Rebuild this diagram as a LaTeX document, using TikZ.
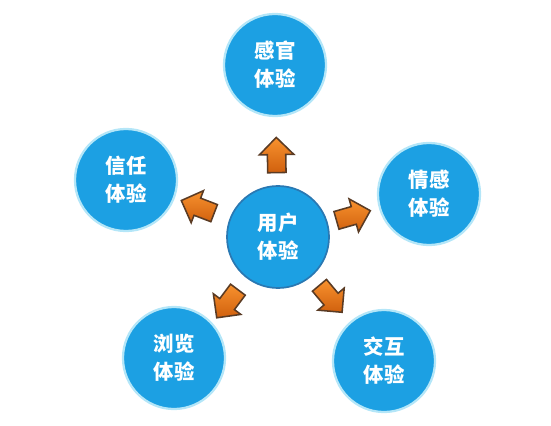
\documentclass[tikz,border=0pt]{standalone}
\usepackage{fontspec}
\newfontfamily\cjk{Noto Sans CJK SC}
\usetikzlibrary{calc,shapes.arrows}

\definecolor{bubbleblue}{HTML}{1CA0E3}
\definecolor{rimblue}{HTML}{B4E6F8}
\definecolor{hubedge}{HTML}{2A78B2}
\definecolor{arrowlight}{HTML}{F8922E}
\definecolor{arrowdark}{HTML}{D0600E}
\definecolor{arrowedge}{HTML}{5A3B24}

\tikzset{
  bubble/.style={circle, minimum size=2.55cm, inner sep=0pt, fill=bubbleblue,
    draw=rimblue, line width=1.6pt, text=white, align=center,
    font=\cjk\bfseries\fontsize{14.5}{20}\selectfont},
  hub/.style={bubble, draw=hubedge, line width=1.2pt},
  pointer/.style={single arrow, inner xsep=0pt, inner ysep=0.21cm,
    minimum height=0.88cm, single arrow head extend=0.2cm,
    draw=arrowedge, line width=1.1pt, top color=arrowlight, bottom color=arrowdark}
}

\begin{document}
\begin{tikzpicture}[x=0.025cm, y=-0.025cm]
		%%%%% START %%%%%
		\useasboundingbox (0, 0) rectangle (551, 426);
		
		\node[hub] (user) at (278, 237) {用户\\体验};
		
		\node[bubble] (sense) at (275, 65) {感官\\体验};
		\node[bubble] (trust) at (126, 180) {信任\\体验};
		\node[bubble] (emotion) at (429, 194) {情感\\体验};
		\node[bubble] (browse) at (174, 358) {浏览\\体验};
		\node[bubble] (interact) at (384, 361) {交互\\体验};
		
		\node[pointer, rotate=91] (tosense) at ($(user)!0.45!(sense)$) {};
		\node[pointer, rotate=159] (totrust) at ($(user)!0.5!(trust)$) {};
		\node[pointer, rotate=16] (toemotion) at ($(user)!0.47!(emotion)$) {};
		\node[pointer, rotate=233] (tobrowse) at ($(user)!0.48!(browse)+(2,5)$) {};
		\node[pointer, rotate=-50] (tointeract) at ($(user)!0.47!(interact)$) {};
		
		%%%%% END %%%%%
	\end{tikzpicture}
\end{document}
